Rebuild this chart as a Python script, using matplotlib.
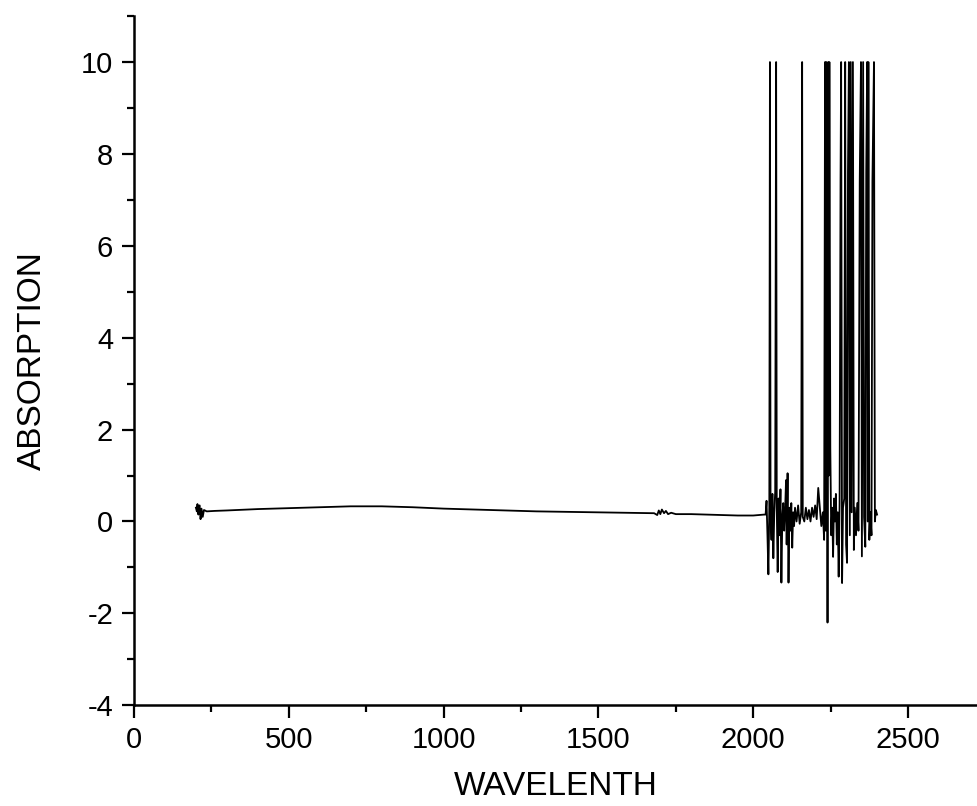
import numpy as np
import matplotlib.pyplot as plt
from matplotlib.ticker import MultipleLocator

plt.rcParams['font.family'] = ['Liberation Sans', 'DejaVu Sans']
plt.rcParams['axes.unicode_minus'] = False

# 平滑段 200-2040 nm
wl_smooth = [200, 203, 205, 208, 210, 212, 215, 218, 222, 226, 235, 260, 300, 400,
             500, 600, 700, 800, 900, 1000, 1100, 1200, 1300, 1400, 1500, 1600,
             1680, 1690, 1695, 1700, 1705, 1712, 1718, 1725, 1735, 1750, 1800,
             1850, 1900, 1950, 2000, 2035]
abs_smooth = [0.30, 0.22, 0.38, 0.15, 0.33, 0.35, 0.05, 0.28, 0.10, 0.25, 0.22, 0.23,
              0.24, 0.27, 0.29, 0.31, 0.33, 0.33, 0.31, 0.28, 0.26, 0.24, 0.22, 0.21,
              0.20, 0.19, 0.18, 0.14, 0.24, 0.16, 0.26, 0.18, 0.23, 0.16, 0.19, 0.16,
              0.16, 0.15, 0.14, 0.13, 0.13, 0.15]

# 噪声段 2040-2400 nm（上限截在 10）
wl_noise = [2040, 2043, 2046, 2049, 2052, 2054, 2056, 2059, 2062, 2065, 2068, 2071,
            2074, 2076, 2079, 2082, 2085, 2088, 2091, 2094, 2097, 2100, 2103, 2106,
            2108, 2111, 2114, 2117, 2120, 2123, 2126, 2129, 2132, 2135, 2140, 2145,
            2150, 2155, 2158, 2160, 2165, 2170, 2175, 2180, 2185, 2190, 2195, 2200,
            2205, 2210, 2215, 2220, 2225, 2229, 2232, 2234, 2236, 2238, 2240, 2242,
            2244, 2246, 2249, 2252, 2255, 2258, 2261, 2264, 2267, 2270, 2273, 2276,
            2279, 2282, 2284, 2287, 2290, 2294, 2297, 2300, 2303, 2306, 2309, 2312,
            2315, 2318, 2322, 2325, 2328, 2332, 2336, 2340, 2344, 2348, 2351, 2355,
            2358, 2362, 2365, 2368, 2370, 2372, 2375, 2378, 2382, 2385, 2390, 2393,
            2396, 2400]
abs_noise = [0.15, 0.45, -0.30, -1.15, 0.30, 10.0, 0.10, -0.40, 0.60, -0.80, 0.20, 0.65,
             10.0, 0.30, -1.10, 0.50, -0.30, 0.70, -1.33, 0.10, 0.40, -0.20, 0.25, 0.90,
             -0.50, 1.05, -1.33, 0.30, -0.20, 0.40, -0.57, 0.20, -0.10, 0.30, 0.00, 0.35,
             -0.05, 0.20, 10.0, 0.10, 0.00, 0.30, 0.05, 0.25, 0.00, 0.30, 0.10, 0.35,
             0.05, 0.73, 0.30, -0.10, 0.20, -0.40, 10.0, -0.20, 10.0, 7.6, -2.20, 10.0,
             1.00, 10.0, 1.60, -0.30, 0.30, -0.77, 0.50, 0.00, 0.60, -0.50, 0.20, -1.20,
             0.40, 7.4, 10.0, -1.34, 0.30, 0.50, 10.0, -0.50, -0.90, 7.6, 10.0, -0.30,
             10.0, 0.20, 10.0, -0.62, 0.30, -0.30, 0.40, -0.20, 7.4, 10.0, -0.76, 10.0,
             0.10, -0.55, 7.6, 10.0, 0.00, 10.0, -0.40, 0.20, -0.30, 7.4, 10.0, 0.00,
             0.25, 0.15]

wl = np.array(wl_smooth + wl_noise)
absorption = np.array(abs_smooth + abs_noise)

fig = plt.figure(figsize=(9.78, 8.06), dpi=100)
ax = fig.add_axes([0.137, 0.125, 0.863, 0.855])
ax.plot(wl, absorption, color='black', lw=1.3)

ax.set_xlim(0, 2726)
ax.set_ylim(-4, 11)
ax.xaxis.set_major_locator(MultipleLocator(500))
ax.xaxis.set_minor_locator(MultipleLocator(250))
ax.yaxis.set_major_locator(MultipleLocator(2))
ax.yaxis.set_minor_locator(MultipleLocator(1))

ax.spines['top'].set_visible(False)
ax.spines['right'].set_visible(False)
for s in ['left', 'bottom']:
    ax.spines[s].set_linewidth(1.8)
ax.tick_params(which='major', direction='out', length=9, width=1.6, labelsize=21, pad=6)
ax.tick_params(which='minor', direction='out', length=5, width=1.6)

ax.set_xlabel('WAVELENTH', fontsize=24, labelpad=12)
ax.set_ylabel('ABSORPTION', fontsize=24, labelpad=24)

fig.savefig('out.png', dpi=100)
